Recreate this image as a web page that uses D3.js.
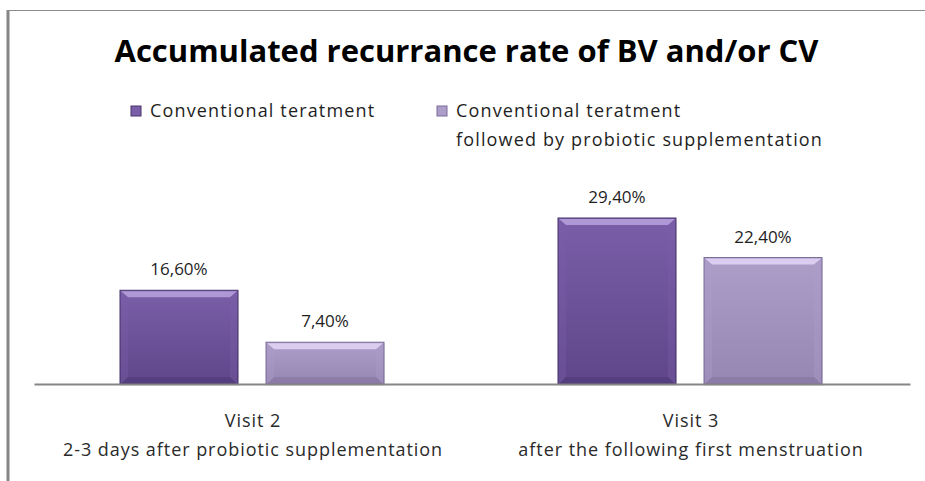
<!DOCTYPE html>
<html>
<head>
<meta charset="utf-8">
<script src="https://cdn.jsdelivr.net/npm/d3@7"></script>
<style>
  body { margin: 0; background: #fff; }
  svg { display: block; }
</style>
</head>
<body>
<div id="chart"></div>
<script>
const title = "Accumulated recurrance rate of BV and/or CV";
const categories = ["Visit 2", "Visit 3"];
const categorySubtitles = ["2-3 days after probiotic supplementation", "after the following first menstruation"];
const seriesNames = ["Conventional teratment", "Conventional teratment\nfollowed by probiotic supplementation"];
const conventional = [16.6, 29.4];
const probiotic = [7.4, 22.4];

const width = 925, height = 481;
const margins = { top: 186, right: 15, bottom: 97, left: 34 };
const fontFamily = "'Open Sans', 'Noto Sans', sans-serif";
const colors = [
    { base: "#5f4689", light: "#7a5fa8", dark: "#47326d", top: "#b9a2de" },
    { base: "#9686b2", light: "#ad9dc9", dark: "#7a6a96", top: "#e3d6f6" }
];

const data = categories.map((c, i) => ({
    category: c,
    values: [conventional[i], probiotic[i]]
}));

const svg = d3.select("#chart")
    .append("svg")
    .attr("width", width)
    .attr("height", height)
    .style("font-family", fontFamily);

const defs = svg.append("defs");
colors.forEach((c, i) => {
    const g = defs.append("linearGradient")
        .attr("id", `grad-${i}`)
        .attr("x1", 0).attr("y1", 0).attr("x2", 0).attr("y2", 1);
    g.append("stop").attr("offset", "0%").attr("stop-color", c.light);
    g.append("stop").attr("offset", "100%").attr("stop-color", c.base);
});

/** frame */
svg.append("line")
    .attr("x1", 8).attr("x2", 8).attr("y1", 10).attr("y2", height)
    .attr("stroke", "#868686").attr("stroke-width", 3);
svg.append("line")
    .attr("x1", 7).attr("x2", width).attr("y1", 10.5).attr("y2", 10.5)
    .attr("stroke", "#8c8c8c").attr("stroke-width", 1.2);

/** scales */
const x0 = d3.scaleBand()
    .domain(categories)
    .range([margins.left, width - margins.right]);
const x1 = d3.scaleBand()
    .domain([0, 1])
    .range([86, 350])
    .paddingInner(0.192);
const y = d3.scaleLinear()
    .domain([0, 35])
    .range([height - margins.bottom, height - margins.bottom - 35 * 5.646]);

/** title */
svg.append("text")
    .attr("x", width / 2 + 4)
    .attr("y", 62)
    .attr("text-anchor", "middle")
    .attr("font-size", 31)
    .attr("font-weight", "bold")
    .attr("fill", "#000")
    .text(title);

/** legend */
const legendX = [131, 437];
const legend = svg.selectAll("g.legend")
    .data(seriesNames)
    .join("g")
    .attr("class", "legend")
    .attr("transform", (_, i) => `translate(${legendX[i]},106)`);
legend.append("rect")
    .attr("width", 10).attr("height", 10)
    .attr("fill", (_, i) => colors[i].light)
    .attr("stroke", (_, i) => colors[i].dark)
    .attr("stroke-width", 1);
legend.append("text")
    .attr("x", 19)
    .attr("y", 11)
    .attr("font-size", 18)
    .attr("letter-spacing", 1.15)
    .attr("fill", "#1e1e1e")
    .selectAll("tspan")
    .data(d => d.split("\n"))
    .join("tspan")
    .attr("x", 19)
    .attr("dy", (_, i) => i == 0 ? 0 : 29)
    .text(d => d);

/** bars */
const groups = svg.selectAll("g.group")
    .data(data)
    .join("g")
    .attr("class", "group")
    .attr("transform", d => `translate(${x0(d.category)},0)`);

const bars = groups.selectAll("g.bar")
    .data(d => d.values.map((v, i) => ({ i, v })))
    .join("g")
    .attr("class", "bar");

// soft shadow
bars.append("rect")
    .attr("x", d => x1(d.i) + 1)
    .attr("y", d => y(d.v) + 2)
    .attr("width", x1.bandwidth())
    .attr("height", d => y(0) - y(d.v))
    .attr("fill", "#000")
    .attr("opacity", 0.08);

bars.append("rect")
    .attr("x", d => x1(d.i))
    .attr("y", d => y(d.v))
    .attr("width", x1.bandwidth())
    .attr("height", d => y(0) - y(d.v))
    .attr("fill", d => `url(#grad-${d.i})`)
    .attr("stroke", d => colors[d.i].dark)
    .attr("stroke-width", 1);

// bevel highlight along the top edge
bars.append("path")
    .attr("d", d => {
        const x = x1(d.i), w = x1.bandwidth(), t = y(d.v);
        return `M${x + 1},${t + 1} L${x + w - 1},${t + 1} L${x + w - 8},${t + 7} L${x + 8},${t + 7} Z`;
    })
    .attr("fill", d => colors[d.i].top)
    .attr("opacity", 0.85);

// bevel sides
bars.append("path")
    .attr("d", d => {
        const x = x1(d.i), w = x1.bandwidth(), t = y(d.v), b = y(0);
        return `M${x + 1},${t + 1} L${x + 8},${t + 7} L${x + 8},${b - 7} L${x + 1},${b}  Z`
            + ` M${x + w - 1},${t + 1} L${x + w - 8},${t + 7} L${x + w - 8},${b - 7} L${x + w - 1},${b} Z`;
    })
    .attr("fill", d => colors[d.i].light)
    .attr("opacity", 0.35);

bars.append("path")
    .attr("d", d => {
        const x = x1(d.i), w = x1.bandwidth(), b = y(0);
        return `M${x + 1},${b} L${x + 8},${b - 7} L${x + w - 8},${b - 7} L${x + w - 1},${b} Z`;
    })
    .attr("fill", d => colors[d.i].dark)
    .attr("opacity", 0.4);

// value labels
bars.append("text")
    .attr("x", d => x1(d.i) + x1.bandwidth() / 2)
    .attr("y", d => y(d.v) - 15)
    .attr("text-anchor", "middle")
    .attr("font-size", 17)
    .attr("fill", "#1e1e1e")
    .text(d => d3.format(".2f")(d.v).replace(".", ",") + "%");

/** axis */
const gx = svg.append("g")
    .attr("transform", `translate(0,${y(0)})`)
    .call(d3.axisBottom(x0).tickSize(0).tickFormat(""))
    .call(g => g.select(".domain").attr("stroke", "#868686").attr("stroke-width", 2))
    .attr("font-family", fontFamily);

gx.selectAll(".tick")
    .append("text")
    .attr("fill", "#2a2a2a")
    .attr("font-size", 18)
    .attr("letter-spacing", 0.95)
    .attr("text-anchor", "middle")
    .selectAll("tspan")
    .data((d, i) => [d, categorySubtitles[i]])
    .join("tspan")
    .attr("x", 0)
    .attr("y", (_, i) => i == 0 ? 43 : 72)
    .text(d => d);
</script>
</body>
</html>
